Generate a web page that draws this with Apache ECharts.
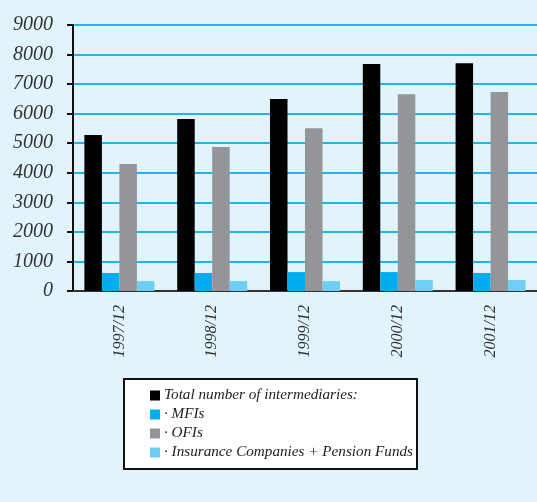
<!DOCTYPE html>
<html><head><meta charset="utf-8">
<script src="https://cdn.jsdelivr.net/npm/echarts@6/dist/echarts.min.js"></script>
<style>html,body{margin:0;padding:0;background:#e1f3fb;}#c{width:537px;height:502px;}</style>
</head><body><div id="c"></div>
<script>
var categories = ['1997/12','1998/12','1999/12','2000/12','2001/12'];
var seriesNames = ['Total number of intermediaries:','· MFIs','· OFIs','· Insurance Companies + Pension Funds'];
var totalValues = [5280, 5820, 6500, 7680, 7710];
var mfiValues = [610, 610, 640, 640, 610];
var ofiValues = [4300, 4870, 5510, 6660, 6730];
var insValues = [335, 335, 335, 370, 370];
var yTicks = [0, 1000, 9000];
var colors = ['#000000','#00aeef','#939598','#6dcff6'];
var font = '"Liberation Serif", "DejaVu Serif", serif';
var chart = echarts.init(document.getElementById('c'));
var dataSets = [totalValues, mfiValues, ofiValues, insValues];
chart.setOption({
  backgroundColor: '#e1f3fb',
  animation: false,
  grid: {left: 73, top: 25, bottom: 211, right: -8.5, containLabel: false},
  legend: {
    orient: 'vertical', left: 124, top: 379,
    backgroundColor: '#ffffff', borderColor: '#111', borderWidth: 2,
    padding: [9, 4, 9, 26], itemWidth: 10, itemHeight: 10, itemGap: 4,
    icon: 'rect', data: seriesNames,
    textStyle: {fontFamily: font, fontStyle: 'italic', fontSize: 15.2, color: '#222', padding: [0,0,0,-1]}
  },
  xAxis: [{
    type: 'category', data: categories,
    axisLine: {lineStyle: {color: '#333', width: 2}},
    axisTick: {length: 5, lineStyle: {color: '#222', width: 2}},
    axisLabel: {rotate: 90, margin: 14, fontFamily: font, fontStyle: 'italic', fontSize: 16, color: '#333'}
  },{
    type: 'category', data: categories, position: 'bottom',
    axisLine: {show: false},
    axisTick: {inside: true, length: 5, lineStyle: {color: '#222', width: 2}},
    axisLabel: {show: false}
  }],
  yAxis: {
    type: 'value', min: yTicks[0], max: yTicks[2], interval: yTicks[1],
    axisLine: {show: true, lineStyle: {color: '#111', width: 2}},
    axisTick: {show: true, length: 6, lineStyle: {color: '#111', width: 2}},
    splitLine: {lineStyle: {color: '#1fb6ef', width: 2}},
    axisLabel: {margin: 20, fontFamily: font, fontStyle: 'italic', fontSize: 20, color: '#333',
      formatter: function(v){ return String(v); }}
  },
  series: seriesNames.map(function(n, i){
    return {name: n, type: 'bar', data: dataSets[i], barWidth: 17.5, barGap: '0%',
      itemStyle: {color: colors[i]}, z: 3};
  })
});
</script></body></html>
